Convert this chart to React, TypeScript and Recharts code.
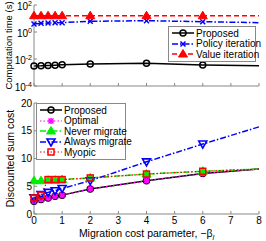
import { LineChart, Line, XAxis, YAxis } from "recharts";

// x positions (migration cost parameter, -beta_l)
const xVals = [0, 0.25, 0.5, 0.75, 1, 2, 4, 6, 8];

// top panel: computation time (s), log scale
const proposedTime = [0.003, 0.0031, 0.0033, 0.0035, 0.0037, 0.0043, 0.0048, 0.0036, 0.0032];
const policyTime = [3.9, 4.4, 4.6, 4.8, 4.9, 6.2, 6.9, 5.8, 4.9];
const valueTime = [16, 16, 16, 16, 16, 16, 16, 16, 16];
const timeTicks = [1e-4, 1e-2, 1, 100];

// bottom panel: discounted sum cost
const proposedCost = [2.3, 2.6, 2.9, 3.2, 3.4, 4.5, 6.0, 7.3, 8.1];
const optimalCost = [2.3, 2.6, 2.9, 3.2, 3.4, 4.5, 6.0, 7.3, 8.1];
const neverCost = [6.0, 6.0, 6.1, 6.1, 6.2, 6.5, 7.2, 7.7, 8.1];
const alwaysCost = [2.9, 3.5, 3.9, 4.2, 4.6, 6.0, 9.4, 12.6, 15.7];
const myopicCost = [2.9, 3.4, 6.2, 6.2, 6.2, 6.5, 7.2, 7.7, 8.1];
const costTicks = [0, 5, 10, 15, 20];
const xTicks = [0, 1, 2, 3, 4, 5, 6, 7, 8];

const timeData = xVals.map((x, i) => ({
  x,
  proposed: proposedTime[i],
  policy: policyTime[i],
  value: valueTime[i],
}));

const costData = xVals.map((x, i) => ({
  x,
  proposed: proposedCost[i],
  optimal: optimalCost[i],
  never: neverCost[i],
  always: alwaysCost[i],
  myopic: myopicCost[i],
}));

const FONT = "'Liberation Sans', Arial, sans-serif";
const BOX = "#888";

type Shape = "circle" | "x" | "star" | "triUp" | "triDown" | "square";

type Series = {
  key: string;
  name: string;
  color: string;
  dash?: string;
  width: number;
  shape: Shape;
};

const timeSeries: Series[] = [
  { key: "proposed", name: "Proposed", color: "#000", width: 1.5, shape: "circle" },
  { key: "policy", name: "Policy iteration", color: "#0000ff", dash: "6 2 1.5 2", width: 1.5, shape: "x" },
  { key: "value", name: "Value iteration", color: "#ff0000", dash: "5 3", width: 1.5, shape: "triUp" },
];

const costSeries: Series[] = [
  { key: "proposed", name: "Proposed", color: "#000", width: 1.5, shape: "circle" },
  { key: "optimal", name: "Optimal", color: "#ff00ff", dash: "1.5 2", width: 1.2, shape: "star" },
  { key: "never", name: "Never migrate", color: "#00ee00", dash: "6 2 1.5 2", width: 1.5, shape: "triUp" },
  { key: "always", name: "Always migrate", color: "#0000ff", dash: "6 2 1.5 2", width: 1.5, shape: "triDown" },
  { key: "myopic", name: "Myopic", color: "#ff0000", dash: "1.5 2", width: 1.2, shape: "square" },
];

function Marker({ shape, color, cx, cy }: { shape: Shape; color: string; cx: number; cy: number }) {
  switch (shape) {
    case "circle":
      return <circle cx={cx} cy={cy} r={3} fill="none" stroke={color} strokeWidth={1.5} />;
    case "x":
      return (
        <g stroke={color} strokeWidth={1.5}>
          <line x1={cx - 2.5} y1={cy - 2.5} x2={cx + 2.5} y2={cy + 2.5} />
          <line x1={cx - 2.5} y1={cy + 2.5} x2={cx + 2.5} y2={cy - 2.5} />
        </g>
      );
    case "star":
      return (
        <g stroke={color} strokeWidth={1.5}>
          <line x1={cx - 2.5} y1={cy - 2.5} x2={cx + 2.5} y2={cy + 2.5} />
          <line x1={cx - 2.5} y1={cy + 2.5} x2={cx + 2.5} y2={cy - 2.5} />
          <line x1={cx - 3} y1={cy} x2={cx + 3} y2={cy} />
          <line x1={cx} y1={cy - 3} x2={cx} y2={cy + 3} />
        </g>
      );
    case "triUp":
      return <polygon points={`${cx},${cy - 4.5} ${cx - 4.5},${cy + 3} ${cx + 4.5},${cy + 3}`} fill={color} stroke={color} />;
    case "triDown":
      return (
        <polygon
          points={`${cx},${cy + 4} ${cx - 4},${cy - 3} ${cx + 4},${cy - 3}`}
          fill="none"
          stroke={color}
          strokeWidth={1.6}
        />
      );
    case "square":
      return <rect x={cx - 3} y={cy - 3} width={6} height={6} fill="none" stroke={color} strokeWidth={1.5} />;
  }
}

// markers everywhere except on the right edge
const dotFor = (s: Series) => (props: any) => {
  const { cx, cy, payload, index } = props;
  if (cx == null || cy == null || payload.x >= 8) return <g key={`${s.key}-${index}`} />;
  return (
    <g key={`${s.key}-${index}`}>
      <Marker shape={s.shape} color={s.color} cx={cx} cy={cy} />
    </g>
  );
};

// inward tick marks + labels
const BottomTick = (label: boolean) => (props: any) => {
  const { x, y, payload } = props;
  return (
    <g>
      <line x1={x} y1={y} x2={x} y2={y - 3} stroke={BOX} />
      {label && (
        <text x={x} y={y + 10} textAnchor="middle" fontSize={10} fill="#000" fontFamily={FONT}>
          {payload.value}
        </text>
      )}
    </g>
  );
};
const TopTick = (props: any) => <line x1={props.x} y1={props.y} x2={props.x} y2={props.y + 3} stroke={BOX} />;
const RightTick = (props: any) => <line x1={props.x} y1={props.y} x2={props.x - 3} y2={props.y} stroke={BOX} />;
const LeftTick = (log: boolean) => (props: any) => {
  const { x, y, payload } = props;
  const v = payload.value;
  return (
    <g>
      <line x1={x} y1={y} x2={x + 3} y2={y} stroke={BOX} />
      {log ? (
        <text x={x - 2} y={y + 5} textAnchor="end" fontSize={10} fill="#000" fontFamily={FONT}>
          <tspan>10</tspan>
          <tspan fontSize={7} dy={-4.5}>
            {String(Math.round(Math.log10(v)))}
          </tspan>
        </text>
      ) : (
        <text x={x - 2} y={y} dy="0.35em" textAnchor="end" fontSize={10} fill="#000" fontFamily={FONT}>
          {v}
        </text>
      )}
    </g>
  );
};

const yLabel = (text: string, size: number, cx: number) => (props: any) => {
  const vb = props.viewBox;
  const cy = vb.y + vb.height / 2;
  return (
    <text
      x={cx}
      y={cy}
      transform={`rotate(-90, ${cx}, ${cy})`}
      textAnchor="middle"
      dominantBaseline="central"
      fontSize={size}
      fill="#000"
      fontFamily={FONT}
    >
      {text}
    </text>
  );
};

function LegendBox({ series, left, top, width }: { series: Series[]; left: number; top: number; width: number }) {
  return (
    <div
      style={{
        position: "absolute",
        left,
        top,
        width,
        background: "#fff",
        border: `1px solid ${BOX}`,
        padding: "1px 0",
        fontFamily: FONT,
        fontSize: 10,
        lineHeight: "11px",
      }}
    >
      {series.map((s) => (
        <div key={s.key} style={{ display: "flex", alignItems: "center", height: 10.5 }}>
          <svg width={26} height={10} style={{ flex: "none", marginLeft: 1 }}>
            <line x1={2} y1={5} x2={24} y2={5} stroke={s.color} strokeWidth={s.width} strokeDasharray={s.dash} />
            <Marker shape={s.shape} color={s.color} cx={13} cy={5} />
          </svg>
          <span style={{ whiteSpace: "nowrap" }}>{s.name}</span>
        </div>
      ))}
    </div>
  );
}

export default function App() {
  return (
    <div style={{ position: "absolute", left: 0, top: 0, width: 266, height: 241, background: "#fff" }}>
      <div style={{ position: "absolute", left: 0, top: 0 }}>
        <LineChart width={266} height={100} data={timeData} margin={{ top: 5, right: 7, bottom: 0, left: 0 }}>
          <XAxis
            dataKey="x"
            type="number"
            domain={[0, 8]}
            ticks={xTicks}
            interval={0}
            height={14}
            stroke={BOX}
            tickLine={false}
            tickSize={0}
            tickMargin={0}
            tick={BottomTick(false)}
          />
          <XAxis
            xAxisId="top"
            dataKey="x"
            orientation="top"
            type="number"
            domain={[0, 8]}
            ticks={xTicks}
            interval={0}
            height={0}
            stroke={BOX}
            tickLine={false}
            tickSize={0}
            tickMargin={0}
            tick={TopTick}
          />
          <YAxis
            scale="log"
            domain={[1e-4, 100]}
            ticks={timeTicks}
            interval={0}
            width={34}
            stroke={BOX}
            tickLine={false}
            tickSize={0}
            tickMargin={0}
            tick={LeftTick(true)}
            label={{ content: yLabel("Computation time (s)", 9.5, 8) }}
          />
          <YAxis
            yAxisId="right"
            orientation="right"
            scale="log"
            domain={[1e-4, 100]}
            ticks={timeTicks}
            interval={0}
            width={0}
            stroke={BOX}
            tickLine={false}
            tickSize={0}
            tickMargin={0}
            tick={RightTick}
          />
          {timeSeries.map((s) => (
            <Line
              key={s.key}
              dataKey={s.key}
              stroke={s.color}
              strokeWidth={s.width}
              strokeDasharray={s.dash}
              dot={dotFor(s)}
              activeDot={false}
              isAnimationActive={false}
            />
          ))}
        </LineChart>
      </div>
      <div style={{ position: "absolute", left: 0, top: 95 }}>
        <LineChart width={266} height={146} data={costData} margin={{ top: 8, right: 7, bottom: 0, left: 0 }}>
          <XAxis
            dataKey="x"
            type="number"
            domain={[0, 8]}
            ticks={xTicks}
            interval={0}
            height={27}
            stroke={BOX}
            tickLine={false}
            tickSize={0}
            tickMargin={0}
            tick={BottomTick(true)}
            label={{
              content: (p: any) => (
                <text
                  x={p.viewBox.x + p.viewBox.width / 2}
                  y={p.viewBox.y + 23}
                  textAnchor="middle"
                  fontSize={10.5}
                  fill="#000"
                  fontFamily={FONT}
                >
                  Migration cost parameter, −β
                  <tspan fontSize={7.5} dy={3} fontStyle="italic">
                    l
                  </tspan>
                </text>
              ),
            }}
          />
          <XAxis
            xAxisId="top"
            dataKey="x"
            orientation="top"
            type="number"
            domain={[0, 8]}
            ticks={xTicks}
            interval={0}
            height={0}
            stroke={BOX}
            tickLine={false}
            tickSize={0}
            tickMargin={0}
            tick={TopTick}
          />
          <YAxis
            type="number"
            domain={[0, 20]}
            ticks={costTicks}
            interval={0}
            width={34}
            stroke={BOX}
            tickLine={false}
            tickSize={0}
            tickMargin={0}
            tick={LeftTick(false)}
            label={{ content: yLabel("Discounted sum cost", 10.5, 10) }}
          />
          <YAxis
            yAxisId="right"
            orientation="right"
            type="number"
            domain={[0, 20]}
            ticks={costTicks}
            interval={0}
            width={0}
            stroke={BOX}
            tickLine={false}
            tickSize={0}
            tickMargin={0}
            tick={RightTick}
          />
          {costSeries.map((s) => (
            <Line
              key={s.key}
              dataKey={s.key}
              stroke={s.color}
              strokeWidth={s.width}
              strokeDasharray={s.dash}
              dot={dotFor(s)}
              activeDot={false}
              isAnimationActive={false}
            />
          ))}
        </LineChart>
      </div>
      <LegendBox series={timeSeries} left={168} top={26} width={86} />
      <LegendBox series={costSeries} left={36} top={103} width={88} />
    </div>
  );
}
